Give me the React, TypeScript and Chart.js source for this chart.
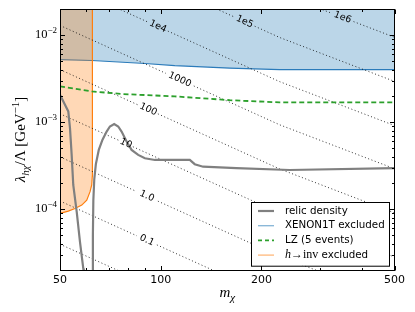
import React, { useEffect, useRef } from 'react';
import { Chart, registerables } from 'chart.js';

Chart.register(...registerables);

// ---------------- data ----------------
const X_MIN = 50;
const X_MAX = 500;
const Y_MIN = 2e-5;
const Y_MAX = 2e-2;

const xMajorTicks = [50, 100, 200, 500];
const xTickLabels = ['50', '100', '200', '500'];
const xMinorTicks = [60, 70, 80, 90, 300, 400];
const yMajorTicks = [1e-2, 1e-3, 1e-4];
const yTickExponents = ['\u22122', '\u22123', '\u22124'];

// relic density (two branches, null = break)
const relicMass = [50, 51.74, 52.94, 53.56, 54.18, 54.78, 56.1, 57.37, 58.7, 58.9,
  62.6, 62.6, 62.7, 62.9, 63.3, 64.0, 65.3, 67.0, 68.93, 70.5, 72.6, 74.65, 76.4, 79.08,
  81.85, 85.65, 89.7, 96.1, 110.2, 122.2, 126.4, 133.9, 168.4, 242.9, 500];
const relicLambda = [2.07e-3, 1.59e-3, 1.33e-3, 8.55e-4, 4.21e-4, 1.9e-4, 9.33e-5, 4.21e-5, 2.08e-5, 1.8e-5,
  null, 1.5e-5, 5e-5, 1.27e-4, 2.2e-4, 3.3e-4, 4.8e-4, 6.3e-4, 7.81e-4, 8.92e-4, 9.51e-4, 8.92e-4, 7.81e-4, 5.99e-4,
  4.8e-4, 4.21e-4, 3.85e-4, 3.68e-4, 3.68e-4, 3.68e-4, 3.29e-4, 3.08e-4, 2.96e-4, 2.82e-4, 2.96e-4];

// XENON1T exclusion boundary (excluded above)
const xenonMass = [50, 62.2, 89.7, 110.2, 160.9, 226.8, 500];
const xenonLambda = [5.24e-3, 5.11e-3, 4.72e-3, 4.47e-3, 4.18e-3, 4.02e-3, 4.02e-3];

// LZ (5 events)
const lzMass = [50, 62.2, 76.4, 110.2, 160.9, 226.8, 500];
const lzLambda = [2.58e-3, 2.26e-3, 2.11e-3, 1.98e-3, 1.79e-3, 1.69e-3, 1.69e-3];

// h -> inv exclusion boundary (excluded above)
const hinvMass = [50, 52.94, 55.42, 58.09, 60.11, 61.49, 62.2, 62.45, 62.5, 62.5];
const hinvLambda = [8.95e-5, 9.51e-5, 1.02e-4, 1.115e-4, 1.27e-4, 1.59e-4, 1.9e-4, 2.4e-4, 3.2e-4, 5e-2];

// contour lines [mass, lambda]; null marks the inline label gap
const contour1e6 = [[50, 0.4197], [226.8, 0.03027], [324.3, 0.0179], null, [377.2, 0.01433], [500, 0.009469]];
const contour1e5 = [[50, 0.1304], [166.5, 0.01611], null, [191.0, 0.01269], [226.8, 0.009408], [500, 0.002943]];
const contour1e4 = [[50, 0.04053], [91.55, 0.01416], null, [105.05, 0.01115], [226.8, 0.002924], [500, 0.0009148]];
const contour1000 = [[50, 0.01294], [103.6, 0.003645], null, [125.6, 0.002609], [226.8, 0.0009333], [500, 0.0002919]];
const contour100 = [[50, 0.004022], [86.05, 0.001564], null, [98.08, 0.001247], [226.8, 0.0002901], [500, 9.073e-5]];
const contour10 = [[50, 0.00125], [75.0, 0.0006175], null, [82.58, 0.0005224], [226.8, 9.016e-5], [500, 2.82e-5]];
const contour1 = [[50, 0.000399], [84.3, 0.0001609], null, [98.08, 0.0001237], [226.8, 2.877e-5], [500, 9.0e-6]];
const contour01 = [[50, 0.0001241], [84.88, 4.941e-5], null, [97.41, 3.89e-5], [226.8, 8.95e-6]];
const contour001 = [[50, 3.958e-5], [226.8, 2.855e-6]];

const contourLabels = ['1e6', '1e5', '1e4', '1000', '100', '10', '1.0', '0.1', ''];
const contourLines = [contour1e6, contour1e5, contour1e4, contour1000, contour100, contour10, contour1, contour01, contour001];

const legendLabels = ['relic density', 'XENON1T excluded', 'LZ (5 events)', 'h\u2192inv excluded'];

// ---------------- styles ----------------
const SANS = '"DejaVu Sans", sans-serif';
const SERIF = '"Liberation Serif", "DejaVu Serif", serif';
const C_RELIC = '#808080';
const C_XENON = '#2b7bba';
const C_LZ = '#2ca02c';
const C_HINV = '#ff7f0e';

const legendStyles = [
  { color: C_RELIC, width: 2.2, dash: [] as number[] },
  { color: 'rgba(31,119,180,0.55)', width: 1.3, dash: [] as number[] },
  { color: C_LZ, width: 1.8, dash: [4, 3] },
  { color: 'rgba(255,127,14,0.55)', width: 1.3, dash: [] as number[] },
];

const pts = (ms: number[], ls: (number | null)[]) => ms.map((m, i) => ({ x: m, y: ls[i] }));
const gapPts = (line: any[]) =>
  line.map((p, i) => (p ? { x: p[0], y: p[1] } : { x: line[i - 1][0], y: null }));

type Part = { text: string; font: string; dy?: number };

function drawParts(ctx: CanvasRenderingContext2D, parts: Part[], x: number, y: number, align: string) {
  let total = 0;
  const widths = parts.map((p) => {
    ctx.font = p.font;
    const w = ctx.measureText(p.text).width;
    total += w;
    return w;
  });
  let cx = align === 'left' ? x : align === 'center' ? x - total / 2 : x - total;
  ctx.textAlign = 'left';
  parts.forEach((p, i) => {
    ctx.font = p.font;
    ctx.fillText(p.text, cx, y + (p.dy || 0));
    cx += widths[i];
  });
}

const decorPlugin = {
  id: 'decor',
  afterDatasetsDraw(chart: any) {
    const ctx: CanvasRenderingContext2D = chart.ctx;
    const { left, right, top, bottom } = chart.chartArea;
    const xs = chart.scales.x;
    const ys = chart.scales.y;
    ctx.save();

    // contour inline labels
    ctx.fillStyle = '#000';
    ctx.textBaseline = 'middle';
    contourLines.forEach((line, i) => {
      const lab = contourLabels[i];
      const k = line.indexOf(null);
      if (!lab || k < 0) return;
      const a = line[k - 1] as number[];
      const b = line[k + 1] as number[];
      const x1 = xs.getPixelForValue(a[0]);
      const y1 = ys.getPixelForValue(a[1]);
      const x2 = xs.getPixelForValue(b[0]);
      const y2 = ys.getPixelForValue(b[1]);
      const ang = Math.atan2(y2 - y1, x2 - x1);
      ctx.save();
      ctx.translate((x1 + x2) / 2, (y1 + y2) / 2);
      ctx.rotate(ang);
      ctx.font = '9.5px ' + SANS;
      ctx.textAlign = 'center';
      ctx.fillText(lab, 0, 0);
      ctx.restore();
    });

    // frame
    const L = Math.round(left) + 0.5;
    const R = Math.round(right) - 0.5;
    const T = Math.round(top) + 0.5;
    const B = Math.round(bottom) + 0.5;
    ctx.strokeStyle = '#000';
    ctx.lineWidth = 1;
    ctx.setLineDash([]);
    ctx.strokeRect(L, T, R - L, B - T);

    // ticks (inside, all four sides)
    ctx.beginPath();
    const xt = (v: number, len: number) => {
      const px = Math.round(xs.getPixelForValue(v)) + 0.5;
      ctx.moveTo(px, B); ctx.lineTo(px, B - len);
      ctx.moveTo(px, T); ctx.lineTo(px, T + len);
    };
    const yt = (v: number, len: number) => {
      const py = Math.round(ys.getPixelForValue(v)) + 0.5;
      ctx.moveTo(L, py); ctx.lineTo(L + len, py);
      ctx.moveTo(R, py); ctx.lineTo(R - len, py);
    };
    xMajorTicks.forEach((v) => xt(v, 4.5));
    xMinorTicks.forEach((v) => xt(v, 2.5));
    yMajorTicks.forEach((v) => yt(v, 4.5));
    for (let e = -5; e <= -2; e++) {
      for (let m = 2; m <= 9; m++) {
        const v = m * Math.pow(10, e);
        if (v > Y_MIN * 0.999 && v < Y_MAX * 1.001) yt(v, 2.5);
      }
    }
    ctx.stroke();

    // x tick labels
    ctx.fillStyle = '#000';
    ctx.textBaseline = 'top';
    ctx.textAlign = 'center';
    ctx.font = '11px ' + SANS;
    xMajorTicks.forEach((v, i) => {
      ctx.fillText(xTickLabels[i], xs.getPixelForValue(v), bottom + 4.5);
    });

    // y tick labels (10^n)
    ctx.textBaseline = 'middle';
    yMajorTicks.forEach((v, i) => {
      const py = ys.getPixelForValue(v);
      drawParts(ctx, [
        { text: '10', font: '12.5px ' + SERIF },
        { text: yTickExponents[i], font: '9px ' + SERIF, dy: -4.5 },
      ], left - 3, py, 'right');
    });

    // x axis title: m_chi
    ctx.textBaseline = 'alphabetic';
    drawParts(ctx, [
      { text: 'm', font: 'italic 15px ' + SERIF },
      { text: '\u03c7', font: 'italic 11px ' + SERIF, dy: 3.5 },
    ], (left + right) / 2, 297, 'center');

    // y axis title
    ctx.save();
    ctx.translate(25, (top + bottom) / 2);
    ctx.rotate(-Math.PI / 2);
    drawParts(ctx, [
      { text: '\u03bb', font: 'italic 15px ' + SERIF },
      { text: 'h\u03c7', font: 'italic 11px ' + SERIF, dy: 3.5 },
      { text: '/\u039b [GeV', font: '15px ' + SERIF },
      { text: '\u22121', font: '11px ' + SERIF, dy: -6 },
      { text: ']', font: '15px ' + SERIF },
    ], 0, 0, 'center');
    ctx.restore();

    // legend
    const bw = 138;
    const bh = 63.7;
    const bx = Math.round(right - 5.5 - bw);
    const by = Math.round(bottom - 4 - bh);
    ctx.fillStyle = '#fff';
    ctx.fillRect(bx, by, bw, bh);
    ctx.strokeStyle = '#000';
    ctx.lineWidth = 1;
    ctx.strokeRect(bx + 0.5, by + 0.5, bw, bh);
    legendLabels.forEach((lab, i) => {
      const ry = by + 9 + i * 14.7;
      const st = legendStyles[i];
      ctx.beginPath();
      ctx.strokeStyle = st.color;
      ctx.lineWidth = st.width;
      ctx.setLineDash(st.dash);
      ctx.moveTo(bx + 7, ry);
      ctx.lineTo(bx + 23, ry);
      ctx.stroke();
      ctx.setLineDash([]);
      ctx.fillStyle = '#000';
      ctx.textBaseline = 'middle';
      const tx = bx + 34;
      if (lab.startsWith('h\u2192inv')) {
        drawParts(ctx, [
          { text: 'h', font: 'italic 12px ' + SERIF },
          { text: '\u2192inv', font: '12px ' + SERIF },
          { text: lab.slice(5), font: '10.3px ' + SANS },
        ], tx, ry, 'left');
      } else {
        drawParts(ctx, [{ text: lab, font: '10.3px ' + SANS }], tx, ry, 'left');
      }
    });

    ctx.restore();
  },
};

export default function App() {
  const ref = useRef<HTMLCanvasElement>(null);
  useEffect(() => {
    const contourDatasets = contourLines.map((line, i) => ({
      type: 'line',
      label: 'contour ' + (contourLabels[i] || '0.01'),
      data: gapPts(line),
      borderColor: 'rgba(0,0,0,0.8)',
      borderWidth: 1,
      borderDash: [1, 2.5],
      pointRadius: 0,
      fill: false,
      spanGaps: false,
      order: 5,
    }));
    const chart = new Chart(ref.current as HTMLCanvasElement, {
      type: 'line',
      data: {
        datasets: [
          {
            label: 'XENON1T excluded',
            data: pts(xenonMass, xenonLambda),
            borderColor: C_XENON,
            borderWidth: 1.1,
            backgroundColor: 'rgba(31,119,180,0.3)',
            fill: 'end',
            pointRadius: 0,
            order: 10,
          },
          {
            label: 'h->inv excluded',
            data: pts(hinvMass, hinvLambda),
            borderColor: C_HINV,
            borderWidth: 1.2,
            backgroundColor: 'rgba(255,127,14,0.3)',
            fill: 'end',
            pointRadius: 0,
            order: 9,
          },
          ...contourDatasets,
          {
            label: 'LZ (5 events)',
            data: pts(lzMass, lzLambda),
            borderColor: C_LZ,
            borderWidth: 1.8,
            borderDash: [5, 3],
            fill: false,
            pointRadius: 0,
            order: 2,
          },
          {
            label: 'relic density',
            data: pts(relicMass, relicLambda),
            borderColor: C_RELIC,
            borderWidth: 2.2,
            fill: false,
            pointRadius: 0,
            spanGaps: false,
            order: 1,
          },
        ] as any,
      },
      options: {
        animation: false,
        responsive: false,
        events: [],
        layout: { padding: { left: 60, top: 9, right: 20.5, bottom: 42 } },
        plugins: { legend: { display: false }, tooltip: { enabled: false } },
        scales: {
          x: { type: 'logarithmic', min: X_MIN, max: X_MAX, display: false },
          y: { type: 'logarithmic', min: Y_MIN, max: Y_MAX, display: false },
        },
      } as any,
      plugins: [decorPlugin],
    });
    return () => chart.destroy();
  }, []);
  return (
    <div style={{ position: 'absolute', left: 0, top: 0, width: 415, height: 312, background: '#fff' }}>
      <canvas ref={ref} width={415} height={312} style={{ width: 415, height: 312, display: 'block' }} />
    </div>
  );
}
